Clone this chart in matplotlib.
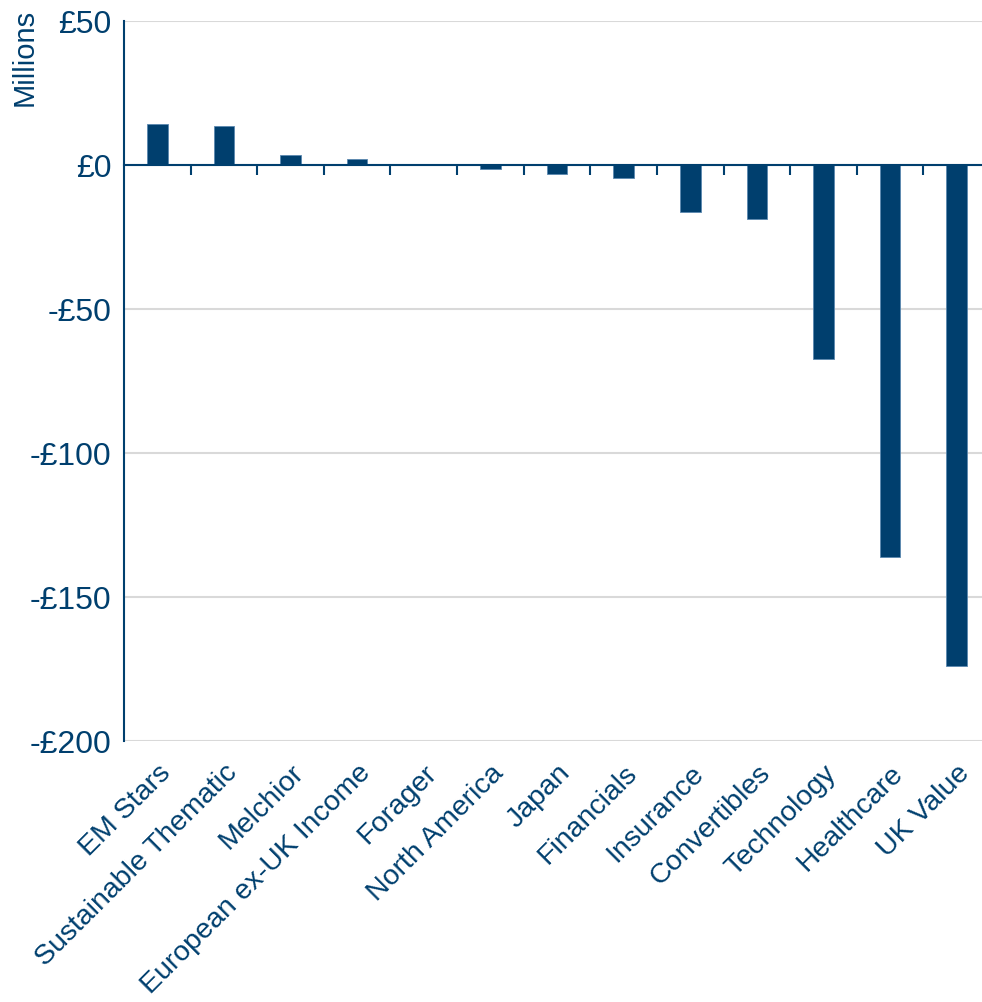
import numpy as np
import matplotlib.pyplot as plt
from matplotlib.ticker import FuncFormatter, FixedLocator

# Flows by strategy (GBP millions)
funds = ['EM Stars', 'Sustainable Thematic', 'Melchior', 'European ex-UK Income',
         'Forager', 'North America', 'Japan', 'Financials', 'Insurance',
         'Convertibles', 'Technology', 'Healthcare', 'UK Value']
flows = [14.2, 13.5, 3.5, 2.0, 0.2, -1.4, -3.0, -4.5, -16.3, -18.8, -67.4, -136.0, -174.0]
yticks = [-200, -150, -100, -50, 0, 50]

navy = '#003f6e'
plt.rcParams['font.family'] = ['Liberation Sans', 'DejaVu Sans']

fig = plt.figure(figsize=(9.82, 10.03), dpi=100)
ax = fig.add_axes([124 / 982, 1 - 742 / 1003, 866 / 982, 720 / 1003])

x = np.arange(len(funds))
ax.bar(x, flows, width=0.31, color=navy, edgecolor='#5a88b0', linewidth=0.6, zorder=3)

# zero line with category divider ticks (set before labels: it resets the ticks)
ax.spines['top'].set_position(('data', 0))
ax.spines['top'].set_color(navy)
ax.spines['top'].set_linewidth(1.5)
ax.spines['top'].set_zorder(4)
ax.spines['left'].set_color(navy)
ax.spines['left'].set_linewidth(1.5)
ax.spines['right'].set_visible(False)
ax.spines['bottom'].set_visible(False)

ax.set_xlim(-0.5, len(funds) - 0.5)
ax.set_ylim(-200, 50)
ax.set_yticks(yticks)
ax.yaxis.set_major_formatter(FuncFormatter(lambda v, p: ('-' if v < 0 else '') + '£%d' % abs(v)))
ax.grid(axis='y', color='#d9d9d9', linewidth=1.5, zorder=0)
ax.tick_params(axis='y', length=0, pad=9, labelsize=23, labelcolor=navy)

ax.xaxis.set_minor_locator(FixedLocator(x[1:] - 0.5))
ax.tick_params(axis='x', which='minor', top=True, bottom=False, direction='in',
               length=7, width=1.5, color=navy)
ax.set_xticks(x)
ax.set_xticklabels(funds, rotation=45, ha='right', rotation_mode='anchor',
                   fontsize=20.5, color=navy)
ax.tick_params(axis='x', which='major', length=0, pad=13)

fig.text(25 / 982, 1 - 57 / 1003, 'Millions', rotation=90, ha='center', va='center',
         fontsize=21, color=navy)

plt.savefig('out.png', dpi=100)
